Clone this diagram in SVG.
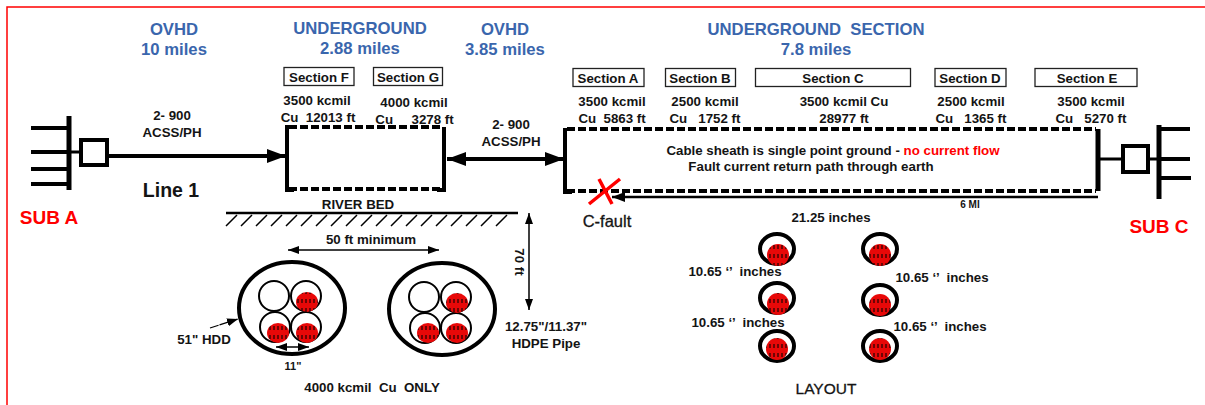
<svg xmlns="http://www.w3.org/2000/svg" width="1205" height="405" viewBox="0 0 1205 405">
<style>
text{font-family:"Liberation Sans",Arial,sans-serif;font-weight:bold;fill:#141414;font-size:13.300px;text-anchor:middle}
.h{fill:#3a66ad;font-size:16.700px}
.red{fill:#ff0000}
.sub{fill:#ff0000;font-size:19px}
.st{fill:none;stroke:#000;stroke-linecap:butt}
.lab{fill:#fff;stroke:#222;stroke-width:1.3}
.dash{fill:none;stroke:#000;stroke-width:4;stroke-dasharray:8 3}
.pipe{fill:#fff;stroke:#000;stroke-width:2}
.hdd{fill:#fff;stroke:#000;stroke-width:4}
.ring{fill:#fff;stroke:#000;stroke-width:4}
.core{fill:url(#hatch)}
</style>
<defs>
<pattern id="hatch" width="4" height="9" patternUnits="userSpaceOnUse" y="1"><rect width="4" height="9" fill="#e80808"/><rect x="1.4" y="1" width="1.2" height="4" fill="#200000"/></pattern>
<marker id="big" markerWidth="20" markerHeight="15" refX="19" refY="7" orient="auto-start-reverse" markerUnits="userSpaceOnUse"><path d="M0 0L19 7L0 14Z" fill="#000"/></marker>
<marker id="med" markerWidth="14" markerHeight="12" refX="13" refY="5" orient="auto-start-reverse" markerUnits="userSpaceOnUse"><path d="M0 0L13 5L0 10Z" fill="#000"/></marker>
<marker id="small" markerWidth="12" markerHeight="10" refX="11" refY="4" orient="auto-start-reverse" markerUnits="userSpaceOnUse"><path d="M0 0L11 4L0 8Z" fill="#000"/></marker>
</defs>
<rect width="1205" height="405" fill="#fff"/>
<path d="M7 405V7H1205" fill="none" stroke="#ff0000" stroke-width="1.5"/>

<g id="headings">
<text class="h" x="174" y="35">OVHD</text><text class="h" x="174" y="55">10 miles</text>
<text class="h" x="360" y="34">UNDERGROUND</text><text class="h" x="360" y="54">2.88 miles</text>
<text class="h" x="505" y="35">OVHD</text><text class="h" x="505" y="55">3.85 miles</text>
<text class="h" x="816" y="35" xml:space="preserve">UNDERGROUND  SECTION</text><text class="h" x="816" y="55">7.8 miles</text>
</g>

<g id="sub-a">
<path class="st" stroke-width="5" stroke-linecap="round" d="M69 116V190"/>
<path class="st" stroke-width="4" d="M31 128H69M31 152H69M31 169H69M31 184H69"/>
<rect x="81" y="140" width="26" height="25" fill="#fff" stroke="#000" stroke-width="4"/>
<text class="sub" x="49" y="224">SUB A</text>
</g>

<g id="sub-c">
<path class="st" stroke-width="5" stroke-linecap="round" d="M1159 125V199"/>
<path class="st" stroke-width="4" stroke-linecap="round" d="M1159 129H1190M1159 159H1190M1159 178H1191"/>
<rect x="1123" y="146" width="25" height="26" fill="#fff" stroke="#000" stroke-width="4"/>
<text class="sub" x="1159" y="233">SUB C</text>
</g>

<g id="section-fg">
<path class="dash" d="M289 127H443M289 189H443"/>
<path class="st" stroke-width="4" d="M287 125V190H294M444 127V190H437"/>
</g>

<g id="section-ae">
<path class="dash" d="M567 129H1096M567 191H1096"/>
<path class="st" stroke-width="4" d="M565 128V192H572"/>
<path class="st" stroke-width="5" stroke-linecap="round" d="M1098 129V191"/>
</g>

<g id="labels">
<g id="label-f"><rect class="lab" x="284" y="67.500" width="70" height="18"/><text x="319" y="81.500">Section F</text></g>
<g id="label-g"><rect class="lab" x="373.500" y="67.500" width="69" height="18"/><text x="408" y="81.500">Section G</text></g>
<g id="label-a"><rect class="lab" x="573" y="68.500" width="71" height="18"/><text x="608" y="82.500">Section A</text></g>
<g id="label-b"><rect class="lab" x="665.500" y="68.500" width="70" height="18"/><text x="700" y="82.500">Section B</text></g>
<g id="label-c"><rect class="lab" x="755.500" y="68.500" width="155" height="18"/><text x="833" y="82.500">Section C</text></g>
<g id="label-d"><rect class="lab" x="935" y="68.500" width="71" height="18"/><text x="970" y="82.500">Section D</text></g>
<g id="label-e"><rect class="lab" x="1035" y="68.500" width="102" height="18"/><text x="1087" y="82.500">Section E</text></g>
</g>

<g id="texts">
<text x="172" y="120">2- 900</text><text x="172" y="137">ACSS/PH</text>
<text x="171" y="197" style="font-size:19.500px">Line 1</text>
<text x="317" y="105">3500 kcmil</text><text x="318" y="122" xml:space="preserve">Cu  12013 ft</text>
<text x="414" y="107">4000 kcmil</text><text x="414.500" y="124" xml:space="preserve">Cu     3278 ft</text>
<text x="511" y="129">2- 900</text><text x="511" y="146">ACSS/PH</text>
<text x="612" y="106">3500 kcmil</text><text x="612" y="123" xml:space="preserve">Cu  5863 ft</text>
<text x="705" y="106">2500 kcmil</text><text x="705" y="123" xml:space="preserve">Cu   1752 ft</text>
<text x="844" y="106">3500 kcmil Cu</text><text x="844" y="123">28977 ft</text>
<text x="971" y="106">2500 kcmil</text><text x="971" y="123" xml:space="preserve">Cu   1365 ft</text>
<text x="1091" y="106">3500 kcmil</text><text x="1091" y="123" xml:space="preserve">Cu   5270 ft</text>
<text x="833" y="155">Cable sheath is single point ground - <tspan class="red">no current flow</tspan></text>
<text x="811" y="171">Fault current return path through earth</text>
<text x="970" y="208" style="font-size:10px">6 MI</text>
<text x="607" y="227" style="font-size:16.500px;font-weight:normal;stroke:#141414;stroke-width:.3">C-fault</text>
<text x="358" y="209">RIVER BED</text>
<text x="371" y="244">50 ft minimum</text>
<text transform="translate(515 262) rotate(90)">70 ft</text>
<text x="546" y="331">12.75"/11.37"</text><text x="546" y="348">HDPE Pipe</text>
<text x="204" y="344">51" HDD</text>
<text x="293" y="370" style="font-size:11px">11"</text>
<text x="372" y="392" xml:space="preserve">4000 kcmil  Cu  ONLY</text>
<text x="831" y="222">21.25 inches</text>
<text x="735" y="276" xml:space="preserve">10.65 ‘’  inches</text>
<text x="738" y="327" xml:space="preserve">10.65 ‘’  inches</text>
<text x="942" y="282" xml:space="preserve">10.65 ‘’  inches</text>
<text x="940" y="331" xml:space="preserve">10.65 ‘’  inches</text>
<text x="826" y="394" style="font-size:15.500px;font-weight:normal;stroke:#141414;stroke-width:.3">LAYOUT</text>
</g>

<g id="river-bed">
<path class="st" stroke-width="2.5" d="M226 213H518"/>
<path class="st" stroke-width="1.5" d="M226 226L237 215M241 226L252 215M256 226L267 215M271 226L282 215M286 226L297 215M301 226L312 215M316 226L327 215M331 226L342 215M346 226L357 215M361 226L372 215M376 226L387 215M391 226L402 215M406 226L417 215M421 226L432 215M436 226L447 215M451 226L462 215M466 226L477 215M481 226L492 215M496 226L507 215"/>
</g>

<g id="hdd-left">
<ellipse class="hdd" cx="292" cy="308" rx="53" ry="46"/>
<circle class="pipe" cx="274" cy="296" r="15"/><circle class="pipe" cx="306" cy="296" r="15"/><circle class="pipe" cx="275" cy="327" r="15"/><circle class="pipe" cx="306" cy="327" r="15"/>
<ellipse class="core" cx="307" cy="302" rx="11" ry="10"/><ellipse class="core" cx="278" cy="333" rx="11" ry="10"/><ellipse class="core" cx="307" cy="333" rx="11" ry="10"/>
</g>
<g id="hdd-right">
<ellipse class="hdd" cx="442" cy="309" rx="53" ry="46"/>
<circle class="pipe" cx="424" cy="297" r="15"/><circle class="pipe" cx="456" cy="297" r="15"/><circle class="pipe" cx="425" cy="328" r="15"/><circle class="pipe" cx="456" cy="328" r="15"/>
<ellipse class="core" cx="457" cy="303" rx="11" ry="10"/><ellipse class="core" cx="428" cy="333" rx="11" ry="10"/><ellipse class="core" cx="457" cy="333" rx="11" ry="10"/>
</g>
<g id="layout">
<ellipse class="ring" cx="777" cy="249" rx="17" ry="15"/><circle class="core" cx="778" cy="255" r="11"/>
<ellipse class="ring" cx="880" cy="249" rx="17" ry="15"/><circle class="core" cx="880" cy="255" r="11"/>
<ellipse class="ring" cx="777" cy="298" rx="17" ry="15"/><circle class="core" cx="778" cy="304" r="11"/>
<ellipse class="ring" cx="880" cy="300" rx="17" ry="15"/><circle class="core" cx="880" cy="305" r="11"/>
<ellipse class="ring" cx="777" cy="346" rx="17" ry="15"/><circle class="core" cx="777" cy="349" r="11"/>
<ellipse class="ring" cx="880" cy="346" rx="17" ry="15"/><circle class="core" cx="880" cy="349" r="11"/>
</g>

<g id="connectors">
<path class="st" stroke-width="3" d="M69 152H80"/>
<path class="st" stroke-width="4" d="M105 156H286" marker-end="url(#big)"/>
<path class="st" stroke-width="4" d="M447 159H564" marker-start="url(#big)" marker-end="url(#big)"/>
<path class="st" stroke-width="2.500" d="M1098 197H612" marker-end="url(#med)"/>
<path class="st" stroke-width="3" d="M1100 159H1122M1148 159H1158"/>
<path class="st" stroke-width="1.500" d="M288 250H439" stroke="#333" marker-start="url(#small)" marker-end="url(#small)"/>
<path class="st" stroke-width="1.500" d="M529 213V310" marker-start="url(#small)" marker-end="url(#small)"/>
<path class="st" stroke-width="1.200" d="M210 328L238 319" stroke-dasharray="9 1" marker-end="url(#small)"/>
<path class="st" stroke-width="1.300" d="M276 347H309" marker-start="url(#small)" marker-end="url(#small)"/>
</g>
<g id="fault"><path d="M589 204L620 179M599 179L612 204" fill="none" stroke="#f00" stroke-width="3.500"/></g>
</svg>
